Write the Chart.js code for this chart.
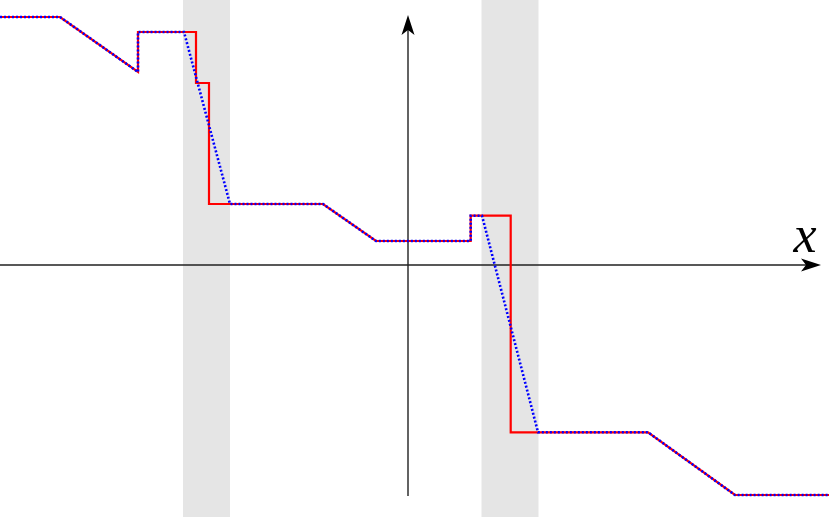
<!DOCTYPE html>
<html>
<head>
<meta charset="utf-8">
<script src="https://cdn.jsdelivr.net/npm/chart.js@4/dist/chart.umd.min.js"></script>
<style>
html,body{margin:0;padding:0;background:#fff;}
#wrap{position:relative;width:829px;height:517px;}
</style>
</head>
<body>
<div id="wrap"><canvas id="c"></canvas></div>
<script>
// Step function (red) and its linear smoothing (blue dotted)
const redX  = [-8.16,-6.96,-5.40,-5.40,-4.24,-4.24,-3.98,-3.98,-1.70,-0.64,1.254,1.254,2.054,2.054,4.80,6.54,8.42];
const redY  = [ 4.96, 4.96, 3.86, 4.66, 4.66, 3.64, 3.64, 1.22, 1.22, 0.48,0.48, 0.986,0.986,-3.346,-3.346,-4.60,-4.60];
const blueX = [-8.16,-6.96,-5.40,-5.40,-4.48,-3.56,-1.70,-0.64,1.254,1.254,1.48, 2.60,4.80,6.54,8.42];
const blueY = [ 4.96, 4.96, 3.86, 4.66, 4.66, 1.22, 1.22, 0.48,0.48, 0.986,0.986,-3.346,-3.346,-4.60,-4.60];
// shaded transition bands [from, to]
const bandFrom = [-4.50, 1.47];
const bandTo   = [-3.56, 2.61];
// axes extents
const xAxisFrom = -8.16, xAxisTo = 8.26;
const yAxisFrom = -4.62, yAxisTo = 5.0;
const xLabel = 'x';
const labelFont = 'italic 52px "Liberation Serif"';

const toPts = (xs, ys) => xs.map((x, i) => ({x: x, y: ys[i]}));

function arrow(ctx, tx, ty, dx, dy) {
  const L = 20, W = 6.5, N = 5;
  const px = -dy, py = dx;
  ctx.beginPath();
  ctx.moveTo(tx, ty);
  ctx.lineTo(tx - dx*L + px*W, ty - dy*L + py*W);
  ctx.lineTo(tx - dx*(L-N), ty - dy*(L-N));
  ctx.lineTo(tx - dx*L - px*W, ty - dy*L - py*W);
  ctx.closePath();
  ctx.fill();
}

const decor = {
  id: 'decor',
  beforeDatasetsDraw(chart) {
    const {ctx, scales: {x, y}, chartArea: a} = chart;
    ctx.save();
    ctx.fillStyle = '#e5e5e5';
    for (let i = 0; i < bandFrom.length; i++) {
      const x0 = x.getPixelForValue(bandFrom[i]);
      const x1 = x.getPixelForValue(bandTo[i]);
      ctx.fillRect(x0, a.top, x1 - x0, a.bottom - a.top);
    }
    ctx.strokeStyle = '#222';
    ctx.fillStyle = '#000';
    ctx.lineWidth = 1.4;
    const ox = x.getPixelForValue(0), oy = y.getPixelForValue(0);
    const xe = x.getPixelForValue(xAxisTo);
    const ye = y.getPixelForValue(yAxisTo);
    ctx.beginPath();
    ctx.moveTo(x.getPixelForValue(xAxisFrom), oy);
    ctx.lineTo(xe - 10, oy);
    ctx.moveTo(ox, y.getPixelForValue(yAxisFrom));
    ctx.lineTo(ox, ye + 10);
    ctx.stroke();
    arrow(ctx, xe, oy, 1, 0);
    arrow(ctx, ox, ye, 0, -1);
    ctx.fillStyle = '#000';
    ctx.font = labelFont + ', "DejaVu Serif", serif';
    ctx.textAlign = 'center';
    ctx.textBaseline = 'alphabetic';
    ctx.fillText(xLabel, xe - 16, oy - 13);
    ctx.restore();
  }
};

function draw() {
  new Chart(document.getElementById('c'), {
    type: 'scatter',
    data: {
      datasets: [
        {data: toPts(redX, redY), showLine: true, borderColor: '#ff0000', borderWidth: 2.2,
         pointRadius: 0, fill: false, tension: 0, order: 2, borderJoinStyle: 'miter'},
        {data: toPts(blueX, blueY), showLine: true, borderColor: '#0000ff', borderWidth: 2.6,
         borderDash: [2, 2], pointRadius: 0, fill: false, tension: 0, order: 1}
      ]
    },
    options: {
      responsive: true,
      maintainAspectRatio: false,
      animation: false,
      events: [],
      layout: {padding: 0},
      plugins: {legend: {display: false}, tooltip: {enabled: false}},
      scales: {
        x: {type: 'linear', min: -8.16, max: 8.42, display: false},
        y: {type: 'linear', min: -5.04, max: 5.30, display: false}
      }
    },
    plugins: [decor]
  });
}
if (document.fonts && document.fonts.load) {
  document.fonts.load(labelFont, xLabel).then(draw, draw);
} else {
  draw();
}
</script>
</body>
</html>
